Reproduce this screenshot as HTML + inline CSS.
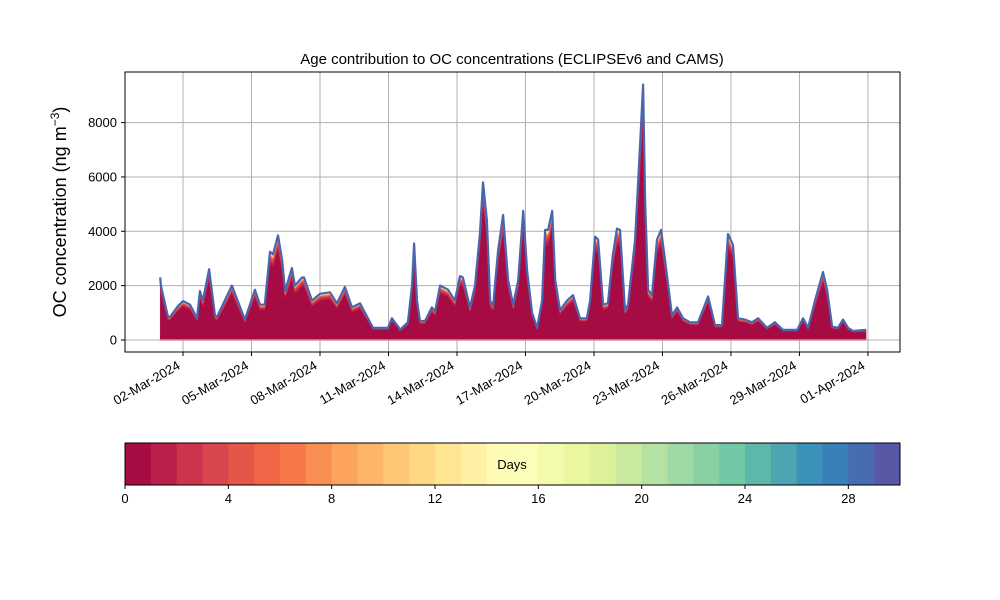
<!DOCTYPE html>
<html><head><meta charset="utf-8"><style>
body{margin:0;background:#fff;}
svg{display:block;font-family:"Liberation Sans","DejaVu Sans",sans-serif;}
</style></head><body>
<svg id="chart" width="1000" height="600" viewBox="0 0 1000 600" xmlns="http://www.w3.org/2000/svg">
<rect width="1000" height="600" fill="#fff"/>
<text x="512" y="64" font-size="15" text-anchor="middle">Age contribution to OC concentrations (ECLIPSEv6 and CAMS)</text>
<text transform="translate(66,212) rotate(-90)" font-size="18" text-anchor="middle">OC concentration (ng m<tspan dy="-7" font-size="12">−3</tspan><tspan dy="7">)</tspan></text>
<g id="grid"></g>
<g id="areas"></g>
<g id="axes"></g>
<g id="cbar"></g>
</svg>
<script>
const days=[0,0.03,0.34,0.43,0.78,1.0,1.31,1.61,1.74,1.87,2.14,2.4,2.49,3.14,3.71,3.93,4.15,4.37,4.58,4.81,4.94,5.16,5.34,5.47,5.77,5.9,6.21,6.3,6.65,7.0,7.44,7.74,8.09,8.4,8.75,8.97,9.32,9.98,10.15,10.46,10.5,10.85,11.03,11.12,11.25,11.38,11.6,11.9,12.04,12.26,12.61,12.91,13.13,13.26,13.57,13.79,14.01,14.14,14.31,14.45,14.58,14.8,15.02,15.24,15.46,15.68,15.9,16.07,16.29,16.51,16.73,16.86,16.99,17.17,17.3,17.51,17.82,18.08,18.39,18.69,18.83,19.05,19.18,19.4,19.61,19.83,20.01,20.14,20.36,20.49,20.8,21.02,21.15,21.24,21.37,21.54,21.76,21.94,22.11,22.42,22.64,22.9,23.21,23.56,24.0,24.3,24.61,24.87,25.09,25.31,25.62,25.92,26.19,26.58,26.93,27.28,27.9,28.16,28.38,28.68,29.03,29.21,29.43,29.69,29.91,30.13,30.35,30.92];
const totals=[2300,2000,850,850,1250,1430,1300,800,1800,1450,2600,900,850,2000,750,1300,1850,1300,1300,3250,3150,3850,2950,1800,2650,2000,2300,2300,1450,1700,1750,1350,1950,1200,1350,1000,450,450,800,450,370,650,2000,3550,1450,700,700,1200,1050,2000,1850,1450,2350,2300,1200,2000,3950,5800,4400,1450,1250,3300,4600,2200,1300,2200,4750,2550,1000,450,1450,4050,4050,4750,2200,1100,1450,1650,800,800,1450,3800,3700,1300,1350,3150,4100,4050,1100,1300,3700,7200,9400,5150,1850,1650,3700,4050,2950,900,1200,800,650,650,1600,550,550,3900,3500,800,750,650,800,450,650,370,370,800,450,1450,2500,1850,500,450,750,450,330,370];
const ageFractions=[0.86,0.035,0.022,0.015,0.011,0.008,0.006,0.005,0.004,0.0035,0.003,0.003,0.0025,0.0025,0.002,0.002,0.002,0.0015,0.0015,0.0015,0.0015,0.0012,0.0012,0.0012,0.0012,0.001,0.001,0.001,0.001,0.001];
const yTicks=[0,2000,4000,6000,8000];
const xTickDays=[1,4,7,10,13,16,19,22,25,28,31];
const xTickLabels=["02-Mar-2024","05-Mar-2024","08-Mar-2024","11-Mar-2024","14-Mar-2024","17-Mar-2024","20-Mar-2024","23-Mar-2024","26-Mar-2024","29-Mar-2024","01-Apr-2024"];
const cbTicks=[0,4,8,12,16,20,24,28];

const NS="http://www.w3.org/2000/svg";
const PL=125,PR=900,PT=72,PB=352;
const N=Math.min(days.length,totals.length);
const xS=d=>160.2+22.83*d;
const yS=v=>340-v*0.027175;
function mk(tag,attrs,parent){const e=document.createElementNS(NS,tag);for(const k in attrs)e.setAttribute(k,attrs[k]);parent.appendChild(e);return e;}
const spec=["#9e0142","#d53e4f","#f46d43","#fdae61","#fee08b","#ffffbf","#e6f598","#abdda4","#66c2a5","#3288bd","#5e4fa2"];
function cmap(t){const p=t*10,i=Math.min(9,Math.floor(p)),f=p-i;const a=spec[i],b=spec[i+1];const c=[1,3,5].map(k=>Math.round(parseInt(a.substr(k,2),16)*(1-f)+parseInt(b.substr(k,2),16)*f));return `rgb(${c.join(',')})`;}

const gridG=document.getElementById('grid');
yTicks.forEach(v=>{const g=mk('line',{x1:PL,x2:PR,y1:yS(v),y2:yS(v),stroke:'#b0b0b0','stroke-width':1},gridG);

});
xTickDays.forEach(d=>{const g=mk('line',{x1:xS(d),x2:xS(d),y1:PT,y2:PB,stroke:'#b0b0b0','stroke-width':1},gridG);

});

const areasG=document.getElementById('areas');
let cum=new Array(N).fill(0);
ageFractions.forEach((frac,k)=>{
  const lower=cum.slice();
  cum=cum.map((c,i)=>c+frac*totals[i]);
  const pts=[],low=[];
  for(let i=0;i<N;i++){pts.push(xS(days[i]).toFixed(1)+','+yS(cum[i]).toFixed(1));}
  for(let i=N-1;i>=0;i--){low.push(xS(days[i]).toFixed(1)+','+yS(lower[i]).toFixed(1));}
  const col=cmap((k+0.5)/30);
  const p=mk('polygon',{points:pts.concat(low).join(' '),fill:col,stroke:col,'stroke-width':0.4},areasG);
  
  
});
const topPts=[];for(let i=0;i<N;i++)topPts.push(xS(days[i]).toFixed(1)+','+yS(totals[i]).toFixed(1));
const topLine=mk('polyline',{points:topPts.join(' '),fill:'none',stroke:'#4a64ae','stroke-width':2.2,'stroke-linejoin':'round'},areasG);


const baseLine=mk('line',{x1:xS(days[0]),x2:xS(days[N-1]),y1:340,y2:340,stroke:'#d98aa8','stroke-width':1.5},areasG);



const axG=document.getElementById('axes');
const frame=mk('rect',{x:PL,y:PT,width:PR-PL,height:PB-PT,fill:'none',stroke:'#000','stroke-width':1},axG);


yTicks.forEach(v=>{mk('line',{x1:PL-4,x2:PL,y1:yS(v),y2:yS(v),stroke:'#000'},axG);
const t=mk('text',{x:PL-8,y:yS(v)+4.5,'font-size':13,'text-anchor':'end'},axG);t.textContent=v;

});
xTickDays.forEach((d,i)=>{const x=xS(d);mk('line',{x1:x,x2:x,y1:PB,y2:PB+4,stroke:'#000'},axG);
const t=mk('text',{transform:`translate(${x-2},${PB+16}) rotate(-30)`,'font-size':13,'text-anchor':'end'},axG);t.textContent=xTickLabels[i];

});

const cbG=document.getElementById('cbar');
const cL=125,cR=900,cT=443,cB=485,nSeg=30,w=(cR-cL)/nSeg;
for(let k=0;k<nSeg;k++){const r=mk('rect',{x:cL+k*w,y:cT,width:w+0.5,height:cB-cT,fill:cmap((k+0.5)/nSeg)},cbG);

}
const cf=mk('rect',{x:cL,y:cT,width:cR-cL,height:cB-cT,fill:'none',stroke:'#000'},cbG);


const dl=mk('text',{x:512,y:469,'font-size':13,'text-anchor':'middle'},cbG);dl.textContent='Days';


cbTicks.forEach(v=>{const x=cL+v*w;mk('line',{x1:x,x2:x,y1:cB,y2:cB+4,stroke:'#000'},cbG);
const t=mk('text',{x:x,y:cB+18,'font-size':13,'text-anchor':'middle'},cbG);t.textContent=v;

});
</script>
</body></html>
